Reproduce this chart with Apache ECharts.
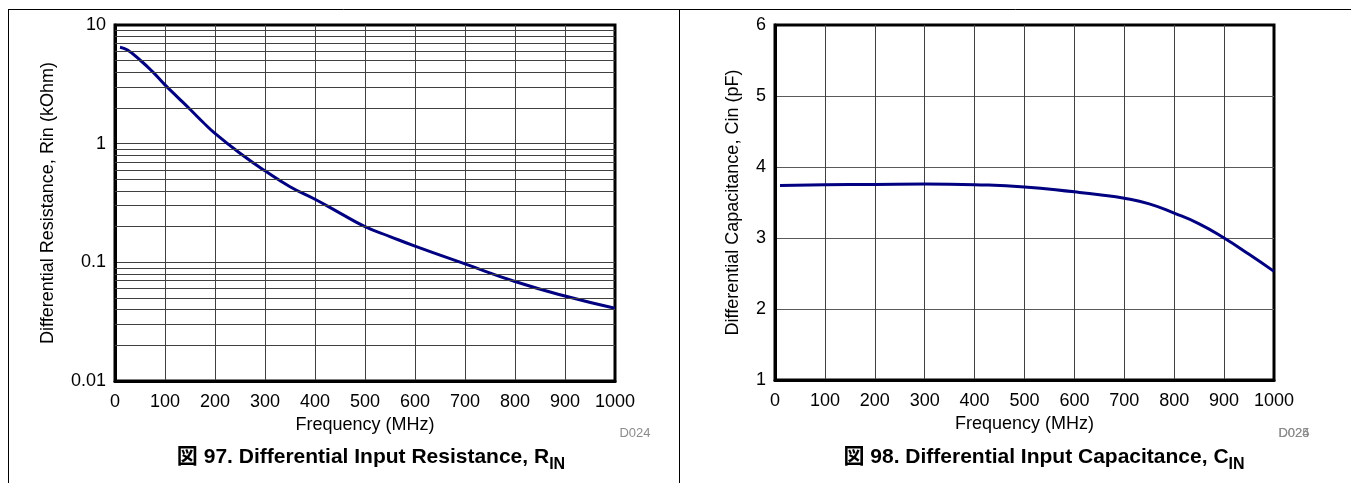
<!DOCTYPE html>
<html>
<head>
<meta charset="utf-8">
<script src="https://cdn.jsdelivr.net/npm/echarts@6/dist/echarts.min.js"></script>
<style>
  html, body { margin: 0; padding: 0; background: #fff; }
  #chart { width: 1351px; height: 483px; }
</style>
</head>
<body>
<div id="chart"></div>
<script>
const font = "'Liberation Sans', Arial, 'Noto Sans CJK JP', sans-serif"

// Fig 97: differential input resistance (kOhm) vs frequency (MHz)
const rinFreq = [10, 25, 50, 75, 100, 125, 150, 175, 200, 250, 300, 350, 400, 450, 500, 550, 600, 700, 800, 900, 1000]
const rinValues = [6.5, 6.15, 5.07, 4.05, 3.13, 2.47, 1.95, 1.53, 1.22, 0.83, 0.59, 0.434, 0.34, 0.26, 0.2, 0.165, 0.137, 0.097, 0.069, 0.052, 0.041]
// minor log grid lines (2..9 of each decade)
const rinMinorLines = [0.02, 0.03, 0.04, 0.05, 0.06, 0.07, 0.08, 0.09,
  0.2, 0.3, 0.4, 0.5, 0.6, 0.7, 0.8, 0.9,
  2, 3, 4, 5, 6, 7, 8, 9]

// Fig 98: differential input capacitance (pF) vs frequency (MHz)
const cinFreq = [10, 100, 200, 300, 400, 500, 600, 650, 700, 750, 800, 850, 900, 950, 1000]
const cinValues = [3.74, 3.75, 3.755, 3.76, 3.75, 3.72, 3.65, 3.61, 3.56, 3.48, 3.35, 3.2, 3.0, 2.77, 2.53]

const gridLine = { show: true, showMinLine: false, showMaxLine: false, lineStyle: { color: '#404040', width: 1 } }
const tickLabel = { color: '#000', fontSize: 18, fontFamily: font }
const nameStyle = { color: '#000', fontSize: 18, fontFamily: font }

const makeXAxis = (gridIndex) => ({
  gridIndex,
  type: 'value',
  min: 0,
  max: 1000,
  interval: 100,
  name: 'Frequency (MHz)',
  nameLocation: 'middle',
  nameGap: 32,
  nameTextStyle: nameStyle,
  axisLine: { show: true, onZero: false, lineStyle: { color: '#000', width: 3 } },
  axisTick: { show: false },
  axisLabel: { ...tickLabel, margin: 12, formatter: v => String(v) },
  splitLine: gridLine
})

const caption = (x, label) => ({
  type: 'text',
  x,
  y: 457,
  style: {
    text: `{a|${label}}{b|IN}`,
    textAlign: 'center',
    textVerticalAlign: 'middle',
    rich: {
      a: { fontSize: 21, fontWeight: 'bold', fontFamily: font, color: '#000', verticalAlign: 'middle' },
      b: { fontSize: 16, fontWeight: 'bold', fontFamily: font, color: '#000', verticalAlign: 'middle', padding: [15, 0, 0, 0] }
    }
  }
})

const tag = (x, text) => ({
  type: 'text',
  x,
  y: 433,
  style: { text, textAlign: 'center', textVerticalAlign: 'middle', fontSize: 13, fontFamily: font, fill: '#8c8c8c' }
})

const curve = (axisIndex, freq, values) => ({
  type: 'line',
  xAxisIndex: axisIndex,
  yAxisIndex: axisIndex,
  z: 3,
  smooth: 0.5,
  symbol: 'none',
  lineStyle: { color: '#000080', width: 3 },
  data: freq.map((f, i) => [f, values[i]])
})

const option = {
  animation: false,
  backgroundColor: '#fff',
  grid: [
    { left: 115, top: 25, width: 500, height: 356, show: true, borderColor: '#000', borderWidth: 3, backgroundColor: 'transparent' },
    { left: 775, top: 25, width: 499, height: 355, show: true, borderColor: '#000', borderWidth: 3, backgroundColor: 'transparent' }
  ],
  xAxis: [makeXAxis(0), makeXAxis(1)],
  yAxis: [
    {
      gridIndex: 0,
      type: 'log',
      logBase: 10,
      min: 0.01,
      max: 10,
      name: 'Differential Resistance, Rin (kOhm)',
      nameLocation: 'middle',
      nameGap: 58,
      nameTextStyle: nameStyle,
      axisLine: { show: true, lineStyle: { color: '#000', width: 3 } },
      axisTick: { show: false },
      axisLabel: { ...tickLabel, margin: 9 },
      splitLine: gridLine
    },
    {
      gridIndex: 1,
      type: 'value',
      min: 1,
      max: 6,
      interval: 1,
      name: 'Differential Capacitance, Cin (pF)',
      nameLocation: 'middle',
      nameGap: 33,
      nameTextStyle: nameStyle,
      axisLine: { show: true, lineStyle: { color: '#000', width: 3 } },
      axisTick: { show: false },
      axisLabel: { ...tickLabel, margin: 9 },
      splitLine: { ...gridLine, lineStyle: { color: '#5a5a5a', width: 1 } }
    }
  ],
  series: [
    {
      type: 'line',
      xAxisIndex: 0,
      yAxisIndex: 0,
      data: [],
      z: 1,
      silent: true,
      markLine: {
        silent: true,
        symbol: 'none',
        animation: false,
        label: { show: false },
        lineStyle: { color: '#404040', width: 1, type: 'solid' },
        data: rinMinorLines.map(v => ({ yAxis: v }))
      }
    },
    curve(0, rinFreq, rinValues),
    curve(1, cinFreq, cinValues)
  ],
  graphic: [
    { type: 'line', shape: { x1: 8, y1: 9.5, x2: 1351, y2: 9.5 }, style: { stroke: '#000', lineWidth: 1 } },
    { type: 'line', shape: { x1: 8.5, y1: 9, x2: 8.5, y2: 483 }, style: { stroke: '#000', lineWidth: 1 } },
    { type: 'line', shape: { x1: 679.5, y1: 9, x2: 679.5, y2: 483 }, style: { stroke: '#000', lineWidth: 1 } },
    tag(635, 'D024'),
    tag(1294, 'D024'),
    tag(1294, 'D025'),
    caption(371, '図 97. Differential Input Resistance, R'),
    caption(1044, '図 98. Differential Input Capacitance, C')
  ]
}

const chart = echarts.init(document.getElementById('chart'))
chart.setOption(option)
</script>
</body>
</html>
